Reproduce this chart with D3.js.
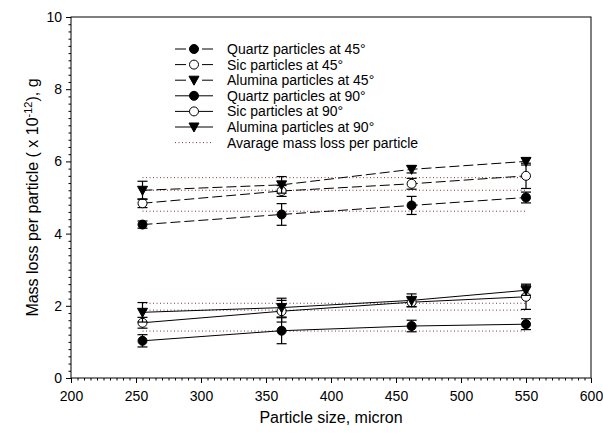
<!DOCTYPE html>
<html>
<head>
<meta charset="utf-8">
<script src="https://d3js.org/d3.v7.min.js"></script>
<style>
  body { margin: 0; background: #fff; }
  text { font-family: Arial, "Liberation Sans", sans-serif; fill: #000; }
</style>
</head>
<body>
<svg width="603" height="438"></svg>
<script>
    // particle sizes (micron)
    const sizes = [255, 362, 462, 550];

    // mass loss per particle (x 10^-12 g) and error bars
    const quartz45 = [4.25, 4.53, 4.78, 5.0];
    const quartz45Err = [0.1, 0.3, 0.25, 0.15];
    const sic45 = [4.84, 5.18, 5.38, 5.6];
    const sic45Err = [0.12, 0.15, 0.15, 0.35];
    const alumina45 = [5.2, 5.35, 5.78, 6.0];
    const alumina45Err = [0.25, 0.23, 0.1, 0.1];
    const quartz90 = [1.03, 1.31, 1.44, 1.49];
    const quartz90Err = [0.17, 0.36, 0.16, 0.15];
    const sic90 = [1.53, 1.85, 2.1, 2.25];
    const sic90Err = [0.15, 0.3, 0.12, 0.35];
    const alumina90 = [1.82, 1.95, 2.15, 2.43];
    const alumina90Err = [0.27, 0.26, 0.18, 0.14];

    // average mass loss per particle
    const averages = [4.62, 5.2, 5.55, 1.3, 1.88, 2.07];

    const xTicks = [200, 250, 300, 350, 400, 450, 500, 550, 600];
    const yTicks = [0, 2, 4, 6, 8, 10];

    const series = [
        {name: "Quartz particles at 45°", v: quartz45, e: quartz45Err, marker: "dot", dash: true},
        {name: "Sic particles at 45°", v: sic45, e: sic45Err, marker: "ring", dash: true},
        {name: "Alumina particles at 45°", v: alumina45, e: alumina45Err, marker: "tri", dash: true},
        {name: "Quartz particles at 90°", v: quartz90, e: quartz90Err, marker: "dot", dash: false},
        {name: "Sic particles at 90°", v: sic90, e: sic90Err, marker: "ring", dash: false},
        {name: "Alumina particles at 90°", v: alumina90, e: alumina90Err, marker: "tri", dash: false}
    ];

    const svg = d3.select("svg");
    const pLeft = 71, pRight = 591, pTop = 17, pBottom = 378;

    const x = d3.scaleLinear().domain([200, 600]).range([pLeft, pRight]);
    const y = d3.scaleLinear().domain([0, 10]).range([pBottom, pTop]);

    // minor ticks
    const xMinor = d3.range(200, 601, 5).filter(d => d % 50 !== 0);
    const yMinor = d3.range(0, 51).map(d => d / 5).filter(d => Math.round(d * 5) % 10 !== 0);

    svg.append("g")
        .attr("transform", "translate(0," + pBottom + ")")
        .call(d3.axisBottom(x).tickValues(xMinor).tickSize(2.5).tickFormat(""))
        .call(g => g.select(".domain").remove());
    svg.append("g")
        .attr("transform", "translate(0," + pBottom + ")")
        .call(d3.axisBottom(x).tickValues(xTicks).tickSize(5).tickPadding(8).tickFormat(d3.format("d")))
        .call(g => g.select(".domain").remove())
        .selectAll("text").style("font-size", "14px");

    svg.append("g")
        .attr("transform", "translate(" + pLeft + ",0)")
        .call(d3.axisLeft(y).tickValues(yMinor).tickSize(2.5).tickFormat(""))
        .call(g => g.select(".domain").remove());
    svg.append("g")
        .attr("transform", "translate(" + pLeft + ",0)")
        .call(d3.axisLeft(y).tickValues(yTicks).tickSize(5).tickPadding(4).tickFormat(d3.format("d")))
        .call(g => g.select(".domain").remove())
        .selectAll("text").style("font-size", "14px");

    // frame
    svg.append("rect")
        .attr("x", pLeft).attr("y", pTop)
        .attr("width", pRight - pLeft).attr("height", pBottom - pTop)
        .attr("fill", "none").attr("stroke", "#000").attr("stroke-width", 1);

    // average dotted lines
    svg.append("g").selectAll("line")
        .data(averages)
        .join("line")
        .attr("x1", x(sizes[0])).attr("x2", x(sizes[sizes.length - 1]))
        .attr("y1", d => y(d)).attr("y2", d => y(d))
        .attr("stroke", "#7a3b3b").attr("stroke-width", 1)
        .attr("stroke-dasharray", "1,2.5");

    const line = d3.line().x((d, i) => x(sizes[i])).y(d => y(d));

    function drawMarker(g, type, cx, cy) {
        if (type === "tri") {
            g.append("path")
                .attr("d", "M" + (cx - 5) + "," + (cy - 4) + "L" + (cx + 5) + "," + (cy - 4) + "L" + cx + "," + (cy + 5) + "Z")
                .attr("fill", "#000").attr("stroke", "#000");
        } else {
            g.append("circle")
                .attr("cx", cx).attr("cy", cy).attr("r", 4.5)
                .attr("fill", type === "ring" ? "#fff" : "#000")
                .attr("stroke", "#000").attr("stroke-width", 1);
        }
    }

    series.forEach(s => {
        svg.append("path")
            .attr("d", line(s.v))
            .attr("fill", "none").attr("stroke", "#000").attr("stroke-width", 1)
            .attr("stroke-dasharray", s.dash ? "10,4" : null);
    });

    series.forEach(s => {
        const g = svg.append("g");
        s.v.forEach((v, i) => {
            const cx = x(sizes[i]);
            const y1 = y(v - s.e[i]), y2 = y(v + s.e[i]);
            g.append("line").attr("x1", cx).attr("x2", cx).attr("y1", y1).attr("y2", y2)
                .attr("stroke", "#000").attr("stroke-width", 1.2);
            [y1, y2].forEach(yy => g.append("line")
                .attr("x1", cx - 5).attr("x2", cx + 5).attr("y1", yy).attr("y2", yy)
                .attr("stroke", "#000").attr("stroke-width", 1.2));
        });
        s.v.forEach((v, i) => drawMarker(g, s.marker, x(sizes[i]), y(v)));
    });

    // legend
    const legend = svg.append("g");
    const rowY = i => 49 + i * 15.6;
    series.forEach((s, i) => {
        const ly = rowY(i);
        if (s.dash) {
            legend.append("line").attr("x1", 175).attr("x2", 186).attr("y1", ly).attr("y2", ly).attr("stroke", "#000");
            legend.append("line").attr("x1", 202).attr("x2", 213).attr("y1", ly).attr("y2", ly).attr("stroke", "#000");
        } else {
            legend.append("line").attr("x1", 175).attr("x2", 213).attr("y1", ly).attr("y2", ly).attr("stroke", "#000");
        }
        drawMarker(legend, s.marker, 194, ly);
        legend.append("text").attr("x", 227).attr("y", ly).attr("dy", "0.35em")
            .style("font-size", "14px").text(s.name);
    });
    const avgY = rowY(6);
    legend.append("line").attr("x1", 175).attr("x2", 213).attr("y1", avgY).attr("y2", avgY)
        .attr("stroke", "#7a3b3b").attr("stroke-dasharray", "1,2.5");
    legend.append("text").attr("x", 227).attr("y", avgY).attr("dy", "0.35em")
        .style("font-size", "14px").text("Avarage mass loss per particle");

    // axis titles
    svg.append("text")
        .attr("x", (pLeft + pRight) / 2).attr("y", 423)
        .attr("text-anchor", "middle").style("font-size", "16px")
        .text("Particle size, micron");

    const yt = svg.append("text")
        .attr("transform", "translate(38," + ((pTop + pBottom) / 2) + ") rotate(-90)")
        .attr("text-anchor", "middle").style("font-size", "16px");
    yt.append("tspan").text("Mass loss per particle ( x 10");
    yt.append("tspan").attr("dy", "-6").style("font-size", "11px").text("-12");
    yt.append("tspan").attr("dy", "6").text("), g");
</script>
</body>
</html>
